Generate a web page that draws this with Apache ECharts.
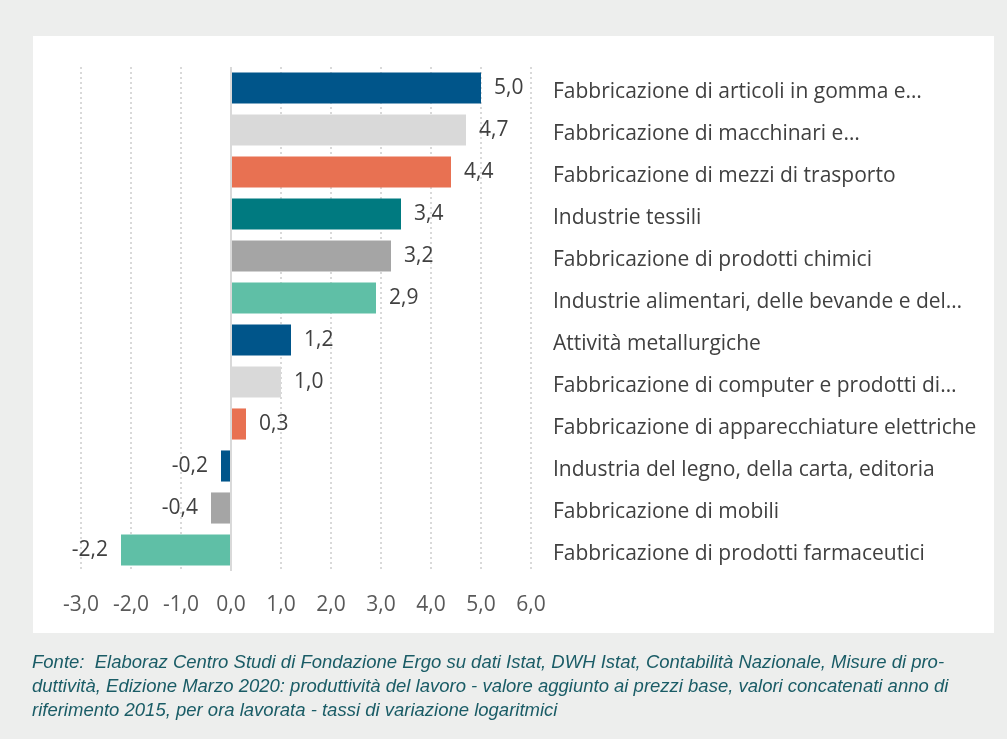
<!DOCTYPE html>
<html>
<head>
<meta charset="utf-8">
<script src="https://cdn.jsdelivr.net/npm/echarts@6/dist/echarts.min.js"></script>
<style>
  html, body { margin: 0; padding: 0; background: #ffffff; }
  #chart { width: 1007px; height: 739px; }
</style>
</head>
<body>
<div id="chart"></div>
<script>
// dati del grafico
var categorie = [
  "Fabbricazione di articoli in gomma e…",
  "Fabbricazione di macchinari e…",
  "Fabbricazione di mezzi di trasporto",
  "Industrie tessili",
  "Fabbricazione di prodotti chimici",
  "Industrie alimentari, delle bevande e del…",
  "Attività metallurgiche",
  "Fabbricazione di computer e prodotti di…",
  "Fabbricazione di apparecchiature elettriche",
  "Industria del legno, della carta, editoria",
  "Fabbricazione di mobili",
  "Fabbricazione di prodotti farmaceutici"
];
var valori = [5.0, 4.7, 4.4, 3.4, 3.2, 2.9, 1.2, 1.0, 0.3, -0.2, -0.4, -2.2];
var colori = ["#00558a", "#d9d9d9", "#e87152", "#007a80", "#a5a5a5", "#5fbfa6",
              "#00558a", "#d9d9d9", "#e87152", "#00558a", "#a5a5a5", "#5fbfa6"];
var fonte = "Fonte:  Elaboraz Centro Studi di Fondazione Ergo su dati Istat, DWH Istat, Contabilità Nazionale, Misure di pro-\n" +
  "duttività, Edizione Marzo 2020: produttività del lavoro - valore aggiunto ai prezzi base, valori concatenati anno di\n" +
  "riferimento 2015, per ora lavorata - tassi di variazione logaritmici";

function virgola(v) {
  return v.toFixed(1).replace(".", ",");
}

var myChart = echarts.init(document.getElementById("chart"));
var option = {
  backgroundColor: "#edeeed",
  animation: false,
  graphic: [
    {
      type: "rect",
      left: 33, top: 36,
      shape: { width: 961, height: 597 },
      style: { fill: "#ffffff" },
      z: -10
    },
    {
      type: "text",
      left: 32, top: 651,
      style: {
        text: fonte,
        fill: "#1a5c66",
        font: "italic 18.5px 'Liberation Sans', Arial",
        lineHeight: 24
      }
    }
  ],
  grid: { left: 81, right: 476, top: 67, bottom: 168 },
  xAxis: {
    type: "value",
    min: -3,
    max: 6,
    interval: 1,
    axisLine: { show: false },
    axisTick: { show: false },
    splitLine: {
      lineStyle: { color: "#d9d9d9", width: 2, type: [2, 3] }
    },
    axisLabel: {
      formatter: virgola,
      color: "#595959",
      fontSize: 21,
      fontFamily: "Open Sans",
      margin: 24
    }
  },
  yAxis: {
    type: "category",
    data: categorie,
    inverse: true,
    position: "right",
    axisLine: { show: false },
    axisTick: { show: false },
    axisLabel: {
      align: "left",
      margin: 22,
      formatter: function (v) { return "{a|" + v + "}"; },
      rich: {
        a: {
          color: "#404040",
          fontSize: 21,
          fontFamily: "Open Sans",
          padding: [8, 0, 0, 0]
        }
      }
    }
  },
  series: [
    {
      type: "bar",
      barCategoryGap: "26%",
      data: valori.map(function (v, i) {
        return {
          value: v,
          itemStyle: { color: colori[i] },
          label: { position: v < 0 ? "left" : "right" }
        };
      }),
      label: {
        show: true,
        distance: 13,
        color: "#404040",
        fontSize: 21,
        fontFamily: "Open Sans",
        formatter: function (p) { return virgola(p.value); }
      },
      markLine: {
        silent: true,
        symbol: "none",
        label: { show: false },
        lineStyle: { color: "#d9d9d9", width: 2, type: "solid" },
        data: [{ xAxis: 0 }]
      }
    }
  ]
};
myChart.setOption(option);
</script>
</body>
</html>
